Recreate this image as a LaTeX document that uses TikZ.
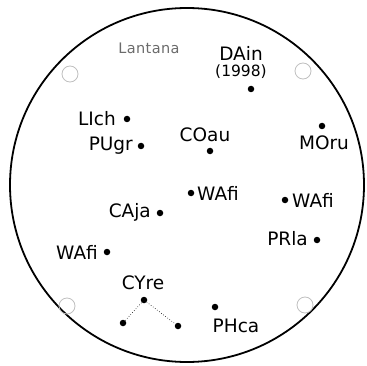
\documentclass[tikz,border=0pt]{standalone}
\usepackage{fontspec}
\setmainfont{DejaVu Sans}
\begin{document}
\begin{tikzpicture}[x=1pt,y=-1pt,
  dot/.style={circle,fill=black,inner sep=0pt,minimum size=6.5pt},
  ring/.style={circle,draw=black!25,line width=0.8pt,inner sep=0pt,minimum size=16pt},
  lbl/.style={inner sep=0pt,font=\fontsize{18.5}{18.5}\selectfont},
  small/.style={inner sep=0pt,font=\fontsize{15.5}{15.5}\selectfont}]
\useasboundingbox (0,0) rectangle (366,366);
\node[circle,draw,line width=1.8pt,minimum size=354pt,inner sep=0pt] (outer) at (187,185) {};
\node[ring] (r1) at (70,74) {};
\node[ring] (r2) at (303,71) {};
\node[ring] (r3) at (67,306) {};
\node[ring] (r4) at (305,305) {};
\node[inner sep=0pt,font=\fontsize{14.5}{14.5}\selectfont,text=black!58] (lant) at (149,48) {L\kern.4pt a\kern.4pt n\kern.4pt t\kern.4pt a\kern.4pt n\kern.4pt a};
\node[dot] (dain) at (251,89) {};
\node[lbl] (dainl) at (241,53) {DAin};
\node[small] (year) at (241,72) {(1998)};
\node[dot] (lich) at (127,119) {};
\node[lbl,anchor=east] (lichl) at (116,119) {LIch};
\node[dot] (pugr) at (141,146) {};
\node[lbl,anchor=east] (pugrl) at (133,146) {PUgr};
\node[dot] (coau) at (210,151) {};
\node[lbl] (coaul) at (205,135) {COau};
\node[dot] (moru) at (322,126) {};
\node[lbl] (morul) at (324,143) {MOru};
\node[dot] (wafi1) at (191,193) {};
\node[lbl,anchor=west] (wafi1l) at (197,193) {WAfi};
\node[dot] (wafi2) at (285,200) {};
\node[lbl,anchor=west] (wafi2l) at (292,200) {WAfi};
\node[dot] (caja) at (160,213) {};
\node[lbl,anchor=east] (cajal) at (151,212) {CAja};
\node[dot] (prla) at (317,240) {};
\node[lbl,anchor=east] (prlal) at (308,239) {PRla};
\node[dot] (wafi3) at (107,252) {};
\node[lbl,anchor=east] (wafi3l) at (98,252) {WAfi};
\node[lbl] (cyrel) at (143,283) {CYre};
\node[dot] (cyre) at (144,300) {};
\node[dot] (cyre2) at (123,323) {};
\node[dot] (cyre3) at (178,326) {};
\draw[dotted,line width=0.6pt] (cyre2) -- (cyre) -- (cyre3);
\node[dot] (phca) at (215,307) {};
\node[lbl] (phcal) at (236,326) {PHca};
\end{tikzpicture}
\end{document}
